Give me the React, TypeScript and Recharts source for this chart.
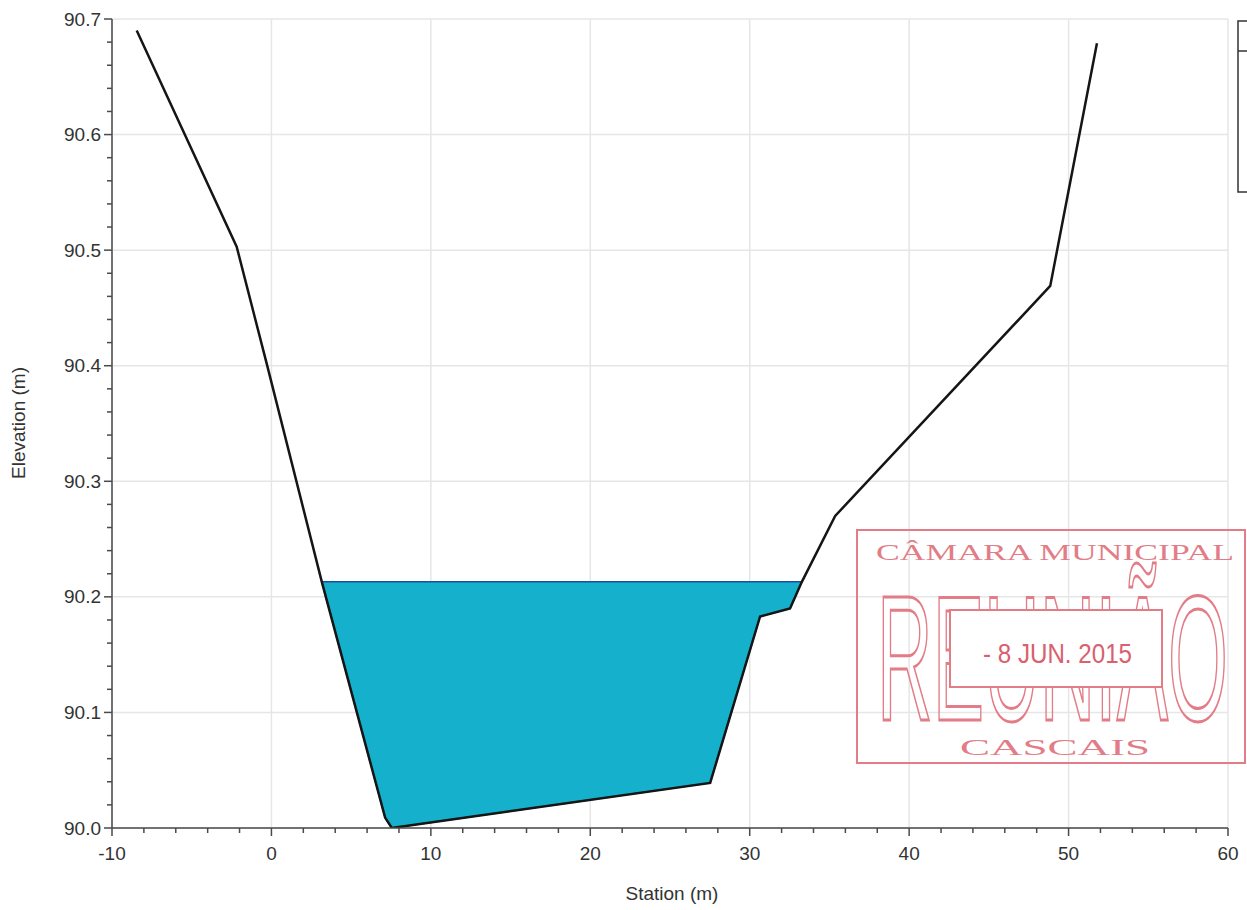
import React from 'react'
import { Area, CartesianGrid, ComposedChart, Line, XAxis, YAxis } from 'recharts'

// ground profile (station m, elevation m)
const groundStation = [-8.45, -2.18, -0.3, 3.16, 7.13, 7.55, 27.52, 30.65, 32.53, 33.27, 35.36, 48.85, 51.78]
const groundElevation = [90.69, 90.503, 90.402, 90.213, 90.009, 90.0, 90.039, 90.183, 90.19, 90.213, 90.27, 90.469, 90.679]

// wetted section
const waterStation = [3.16, 7.13, 7.55, 27.52, 30.65, 32.53, 33.27]
const waterBed = [90.213, 90.009, 90.0, 90.039, 90.183, 90.19, 90.213]
const waterSurface = 90.213

const xMajorTicks = [-10, 0, 10, 20, 30, 40, 50, 60]
const yMajorTicks = [90.0, 90.1, 90.2, 90.3, 90.4, 90.5, 90.6, 90.7]
const xMinorTicks = [
  -10, -8, -6, -4, -2, 0, 2, 4, 6, 8, 10, 12, 14, 16, 18, 20, 22, 24, 26, 28, 30, 32, 34, 36, 38, 40, 42, 44, 46, 48,
  50, 52, 54, 56, 58, 60,
]
const yMinorTicks = [
  90.0, 90.02, 90.04, 90.06, 90.08, 90.1, 90.12, 90.14, 90.16, 90.18, 90.2, 90.22, 90.24, 90.26, 90.28, 90.3, 90.32,
  90.34, 90.36, 90.38, 90.4, 90.42, 90.44, 90.46, 90.48, 90.5, 90.52, 90.54, 90.56, 90.58, 90.6, 90.62, 90.64, 90.66,
  90.68, 90.7,
]

const groundData = groundStation.map((s, i) => ({ station: s, elevation: groundElevation[i] }))
const waterData = waterStation.map((s, i) => ({ station: s, range: [waterBed[i], waterSurface] }))

const FONT = '"Liberation Sans", Arial, Helvetica, sans-serif'
const AXIS = '#4a4a4a'
const STAMP = '#e27d87'

function XTick(props: any) {
  const { x, y, payload } = props
  const v = payload.value as number
  const major = xMajorTicks.includes(v)
  return (
    <g>
      <line x1={x} x2={x} y1={y} y2={y + (major ? 8 : 5)} stroke={AXIS} strokeWidth={1.5} />
      {major && (
        <text x={x} y={y + 25} textAnchor="middle" dominantBaseline="central" fontFamily={FONT} fontSize={19} fill="#333">
          {v}
        </text>
      )}
    </g>
  )
}

function YTick(props: any) {
  const { x, y, payload } = props
  const v = payload.value as number
  const major = Math.abs(v * 10 - Math.round(v * 10)) < 1e-6
  return (
    <g>
      <line x1={x} x2={x - (major ? 8 : 5)} y1={y} y2={y} stroke={AXIS} strokeWidth={1.5} />
      {major && (
        <text x={x - 11} y={y} textAnchor="end" dominantBaseline="central" fontFamily={FONT} fontSize={19} fill="#333">
          {v.toFixed(1)}
        </text>
      )}
    </g>
  )
}

export default function App() {
  return (
    <div style={{ position: 'absolute', left: 0, top: 0, width: 1247, height: 910, overflow: 'hidden', background: '#fff' }}>
      <ComposedChart width={1247} height={910} margin={{ top: 19, right: 19, bottom: 81, left: 111 }}>
        <CartesianGrid stroke="#e6e6e6" strokeWidth={1.5} horizontalValues={yMajorTicks} verticalValues={xMajorTicks} />
        <XAxis
          type="number"
          dataKey="station"
          domain={[-10, 60]}
          ticks={xMinorTicks}
          interval={0}
          height={1}
          tickSize={0}
          tickMargin={0}
          tickLine={false}
          tick={<XTick />}
          axisLine={{ stroke: AXIS, strokeWidth: 1.5 }}
          allowDataOverflow
        />
        <YAxis
          type="number"
          domain={[90, 90.7]}
          ticks={yMinorTicks}
          interval={0}
          width={1}
          tickSize={0}
          tickMargin={0}
          tickLine={false}
          tick={<YTick />}
          axisLine={{ stroke: AXIS, strokeWidth: 1.5 }}
          allowDataOverflow
        />
        <Area
          data={waterData}
          dataKey="range"
          type="linear"
          fill="#15b0cb"
          fillOpacity={1}
          stroke="#1e4f9e"
          strokeWidth={1.5}
          dot={false}
          activeDot={false}
          isAnimationActive={false}
        />
        <Line
          data={groundData}
          dataKey="elevation"
          type="linear"
          stroke="#151515"
          strokeWidth={2.5}
          dot={false}
          activeDot={false}
          isAnimationActive={false}
        />
      </ComposedChart>

      <svg width={1247} height={910} style={{ position: 'absolute', left: 0, top: 0, pointerEvents: 'none' }}>
        <text x={672} y={893} textAnchor="middle" dominantBaseline="central" fontFamily={FONT} fontSize={19} fill="#333">
          Station (m)
        </text>
        <text
          x={18}
          y={423}
          transform="rotate(-90 18 423)"
          textAnchor="middle"
          dominantBaseline="central"
          fontFamily={FONT}
          fontSize={19}
          fill="#333"
        >
          Elevation (m)
        </text>

        {/* legend box, cut off at the page edge */}
        <rect x={1238} y={21} width={30} height={171} fill="#fff" stroke="#333" strokeWidth={1.5} />
        <line x1={1238} x2={1247} y1={51} y2={51} stroke="#333" strokeWidth={1.5} />

        {/* received stamp */}
        <rect x={857} y={530} width={388} height={233} fill="none" stroke={STAMP} strokeWidth={2} />
        <text
          x={876}
          y={560}
          textLength={358}
          lengthAdjust="spacingAndGlyphs"
          fontFamily='"Liberation Serif", "Times New Roman", serif'
          fontSize={23}
          fill={STAMP}
        >
          CÂMARA MUNICIPAL
        </text>
        <text
          x={877}
          y={720}
          textLength={351}
          lengthAdjust="spacingAndGlyphs"
          fontFamily='"Liberation Sans Narrow", "Liberation Sans", sans-serif'
          fontSize={178}
          fill="none"
          stroke={STAMP}
          strokeWidth={3}
        >
          REUNIÃO
        </text>
        <rect x={950} y={610} width={212} height={77} fill="#fff" stroke={STAMP} strokeWidth={2} />
        <text
          x={983}
          y={663}
          textLength={149}
          lengthAdjust="spacingAndGlyphs"
          fontFamily='"Liberation Sans Narrow", "Liberation Sans", sans-serif'
          fontSize={28}
          fill="#d9606e"
        >
          - 8 JUN. 2015
        </text>
        <text
          x={960}
          y={755}
          textLength={190}
          lengthAdjust="spacingAndGlyphs"
          fontFamily='"Liberation Serif", "Times New Roman", serif'
          fontSize={23}
          fill={STAMP}
        >
          CASCAIS
        </text>
      </svg>
    </div>
  )
}
